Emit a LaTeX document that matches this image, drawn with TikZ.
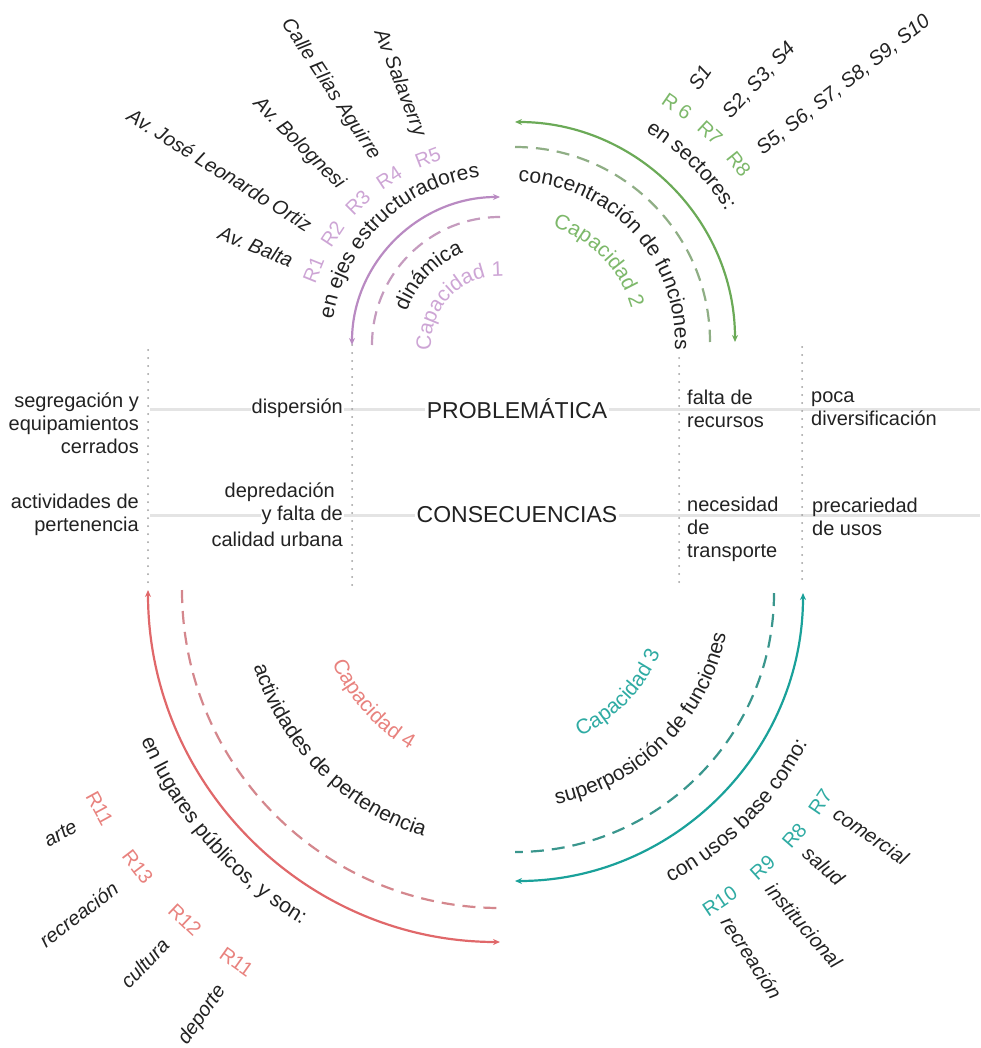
\documentclass[tikz,border=0pt]{standalone}
\usepackage{fontspec}
\setmainfont{Liberation Sans}
\usetikzlibrary{arrows.meta,decorations.text}
\frenchspacing

\definecolor{purpline}{HTML}{B98AC2}
\definecolor{purpdash}{HTML}{C59BBE}
\definecolor{purptext}{HTML}{CDA5D5}
\definecolor{greenline}{HTML}{6BAA57}
\definecolor{greendash}{HTML}{8FAE85}
\definecolor{greentext}{HTML}{7DB86A}
\definecolor{tealline}{HTML}{1AA19A}
\definecolor{tealdash}{HTML}{3A968D}
\definecolor{tealtext}{HTML}{2FABA3}
\definecolor{redline}{HTML}{E0686A}
\definecolor{reddash}{HTML}{D4878D}
\definecolor{redtext}{HTML}{E8827E}
\definecolor{rowgray}{HTML}{E4E4E4}
\definecolor{dotgray}{HTML}{9C9C9C}
\definecolor{ink}{HTML}{222222}

\newcommand{\smallfont}{\fontsize{20}{23}\selectfont}
\newcommand{\arcfont}{\fontsize{21}{21}\selectfont}

% text along an arc: centre, radius, start angle, end angle, colour, text
\newcommand{\arclabel}[6]{%
  \path[decorate, decoration={text along path, text align=center,
        text color=#5, text={|\arcfont|#6}}]
    ([shift={(#3:#2)}]#1) arc[start angle=#3, end angle=#4, radius=#2];}

\begin{document}
\begin{tikzpicture}[x=1pt, y=1pt, >={Stealth[length=7pt,width=6pt]},
  solidarc/.style={line width=2.2pt, <->, draw=#1},
  dasharc/.style={line width=2.2pt, draw=#1, dash pattern=on 13pt off 8pt},
  rowline/.style={line width=3pt, draw=rowgray},
  colline/.style={line width=2pt, draw=dotgray, line cap=round, dash pattern=on 0pt off 8pt},
  cell/.style={font=\smallfont, text=ink, inner sep=1pt},
  head/.style={font=\fontsize{23}{25}\selectfont, text=ink, fill=white, inner sep=2pt},
  rlab/.style={font=\fontsize{20}{20}\selectfont, inner sep=0pt},
  usetext/.style={font=\fontsize{20}{20}\selectfont\itshape, text=ink, inner sep=0pt}]
  \useasboundingbox (0,0) rectangle (980,-1048);

  % Centres of the four arcs
  \coordinate (pc) at (500,-345);
  \coordinate (gc) at (515,-342);
  \coordinate (tc) at (515,-593);
  \coordinate (rc) at (500,-590);

  % Draw rows and columns
  \draw[rowline] (150,-409) -- (980,-409);
  \draw[rowline] (150,-515) -- (980,-515);
  \draw[colline] (148,-350) -- (148,-585);
  \draw[colline] (352,-345) -- (352,-585);
  \draw[colline] (679,-358) -- (679,-588);
  \draw[colline] (802,-347) -- (802,-583);

  % Draw table texts
  \node[head] (prob) at (517,-409) {PROBLEMÁTICA};
  \node[head] (cons) at (517,-515) {CONSECUENCIAS};
  \node[cell, align=right, anchor=east] (segr) at (140,-423)
        {segregación y\\equipamientos\\cerrados};
  \node[cell, align=right, anchor=east] (activ) at (140,-515)
        {actividades de\\pertenencia};
  \node[cell, fill=white, anchor=east] (disp) at (344,-408) {dispersión};
  \node[cell, anchor=east] (depr) at (336,-492) {depredación};
  \node[cell, fill=white, anchor=east] (depr2) at (344,-515) {y falta de};
  \node[cell, anchor=east] (depr3) at (344,-539) {calidad urbana};
  \node[cell, align=left, anchor=west] (falta) at (686,-409)
        {falta de\\recursos};
  \node[cell, align=left, anchor=west] (poca) at (810,-409)
        {poca\\diversificación};
  \node[cell, align=left, anchor=west] (neces) at (686,-529)
        {necesidad\\de\\transporte};
  \node[cell, align=left, anchor=west] (preca) at (811,-517)
        {precariedad\\de usos};

  % Draw capacidad 1
  \draw[solidarc=purpline] ([shift={(180:148)}]pc) arc[start angle=180, end angle=90, radius=148];
  \draw[dasharc=purpdash] ([shift={(180:128)}]pc) arc[start angle=180, end angle=90, radius=128];
  \arclabel{pc}{169}{194}{74}{ink}{en ejes estructuradores}
  \arclabel{pc}{99}{196}{76}{ink}{dinámica}
  \arclabel{pc}{69}{211}{61}{purptext}{Capacidad 1}
  \foreach \ang/\lab [count=\i] in {158/R1, 146.5/R2, 135/R3, 123.5/R4, 111/R5}
    \node[rlab, text=purptext, rotate=\ang-90] (pr\i) at ([shift={(\ang:201)}]pc) {\lab};
  \foreach \ang/\lab [count=\i] in {158/Av. Balta, 148/Av. José Leonardo Ortiz,
      135/Av. Bolognesi, 123.5/Calle Elias Aguirre, 111/Av Salaverry}
    \node[usetext, anchor=east, rotate=\ang+180] (st\i) at ([shift={(\ang:224)}]pc) {\lab};

  % Draw capacidad 2
  \draw[solidarc=greenline] ([shift={(90:220)}]gc) arc[start angle=90, end angle=0, radius=220];
  \draw[dasharc=greendash] ([shift={(90:195)}]gc) arc[start angle=90, end angle=0, radius=195];
  \arclabel{gc}{160}{103}{-17}{ink}{concentración de funciones}
  \arclabel{gc}{121}{104}{-16}{greentext}{Capacidad 2}
  \arclabel{gc}{248}{105}{-15}{ink}{en sectores:}
  \foreach \ang/\lab [count=\i] in {55.5/R 6, 47/R7, 38.5/R8}
    \node[rlab, text=greentext, rotate=\ang-90] (gr\i) at ([shift={(\ang:286)}]gc) {\lab};
  \foreach \ang/\lab [count=\i] in {55/S1, 47/{S2, S3, S4}, 38/{S5, S6, S7, S8, S9, S10}}
    \node[usetext, anchor=west, rotate=\ang] (sec\i) at ([shift={(\ang:310)}]gc) {\lab};

  % Draw capacidad 3
  \draw[solidarc=tealline] ([shift={(0:288)}]tc) arc[start angle=0, end angle=-90, radius=288];
  \draw[dasharc=tealdash] ([shift={(0:259)}]tc) arc[start angle=0, end angle=-90, radius=259];
  \arclabel{tc}{215}{-105}{15}{ink}{superposición de funciones}
  \arclabel{tc}{157}{-104}{16}{tealtext}{Capacidad 3}
  \arclabel{tc}{329}{-104.5}{15.5}{ink}{con usos base como:}
  \foreach \ang/\lab [count=\i] in {-56.4/R10, -48/R9, -41/R8, -34.4/R7}
    \node[rlab, text=tealtext, rotate=\ang+90] (tr\i) at ([shift={(\ang:370)}]tc) {\lab};
  \foreach \ang/\lab [count=\i] in {-57/recreación, -49/institucional, -41.5/salud, -34.3/comercial}
    \node[usetext, anchor=west, rotate=\ang] (tu\i) at ([shift={(\ang:388)}]tc) {\lab};

  % Draw capacidad 4
  \draw[solidarc=redline] ([shift={(180:352)}]rc) arc[start angle=180, end angle=270, radius=352];
  \draw[dasharc=reddash] ([shift={(180:318)}]rc) arc[start angle=180, end angle=270, radius=318];
  \arclabel{rc}{258}{165}{285}{ink}{actividades de pertenencia}
  \arclabel{rc}{183}{162}{282}{redtext}{Capacidad 4}
  \arclabel{rc}{389}{161}{281}{ink}{en lugares públicos, y son:}
  \foreach \ang/\lab [count=\i] in {208.6/R11, 217.4/R13, 226.3/R12, 234.7/R11}
    \node[rlab, text=redtext, rotate=\ang+90] (rr\i) at ([shift={(\ang:456)}]rc) {\lab};
  \foreach \ang/\lab [count=\i] in {209/arte, 217.6/recreación, 226.4/cultura, 235/deporte}
    \node[usetext, anchor=east, rotate=\ang-180] (ru\i) at ([shift={(\ang:485)}]rc) {\lab};
\end{tikzpicture}
\end{document}
